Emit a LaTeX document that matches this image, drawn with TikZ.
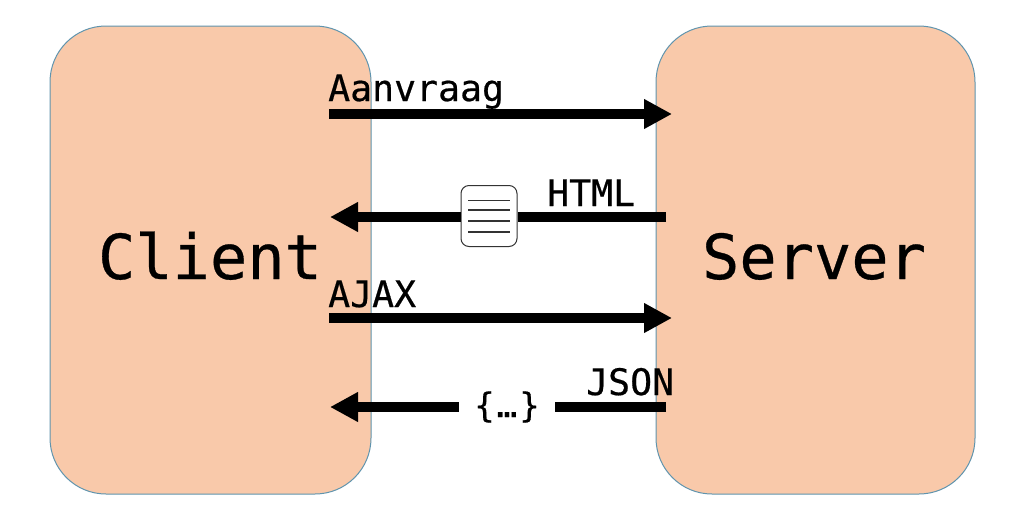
\documentclass[tikz,border=0pt]{standalone}
\usepackage{fontspec}
\setmonofont[FakeBold=0.5]{DejaVu Sans Mono}
\usetikzlibrary{arrows.meta}
\definecolor{boxfill}{HTML}{F9C9AA}
\definecolor{boxline}{HTML}{5F94AE}
\begin{document}
\begin{tikzpicture}[x=1pt,y=-1pt]
 \tikzset{arrow/.style={line width=10pt,-{Triangle[length=28pt,width=28pt]}}}
 \tikzset{plainarrow/.style={line width=10pt}}
 \tikzset{party/.style={draw=boxline,fill=boxfill,line width=1pt,rounded corners=56pt,minimum height=468pt,inner sep=0pt}}
 \tikzset{biglabel/.style={font=\ttfamily\fontsize{62}{62}\selectfont,inner sep=0pt}}
 \tikzset{smalllabel/.style={font=\ttfamily\fontsize{36.5}{36.5}\selectfont,inner sep=0pt,anchor=base west}}
 \useasboundingbox (0,0) rectangle (1020,517);
 \node[party,minimum width=321pt] (client) at (210.5,260) {};
 \node[party,minimum width=319pt] (server) at (815.5,260) {};
 \node[biglabel,anchor=base] (clienttext) at (210,279) {Client};
 \node[biglabel,anchor=base] (servertext) at (814,279) {Server};

 \coordinate (A1) at (329,114);
 \coordinate (B1) at (672,114);
 \coordinate (B2) at (666,217);
 \coordinate (A2) at (330,217);
 \coordinate (A3) at (329,318);
 \coordinate (B3) at (672,318);
 \coordinate (B4) at (666,407);
 \coordinate (A4) at (330,407);

 \node[draw=black!80,fill=white,line width=1pt,rounded corners=8pt,minimum width=56pt,minimum height=61pt,inner sep=0pt] (doc) at (489,216) {};
 \foreach \y in {-15.5,-6,5,16}
  \draw[black!80,line width=1.2pt] ([xshift=-21pt,yshift=-\y pt]doc.center) -- ([xshift=21pt,yshift=-\y pt]doc.center);
 \node[font=\ttfamily\fontsize{34}{34}\selectfont,minimum width=96pt,inner sep=0pt] (dots) at (507,407) {\{\kern2pt…\kern2pt\}};

 \draw[arrow] (A1) to (B1);
 \draw[plainarrow] (B2) to (doc.east |- B2);
 \draw[arrow] (doc.west |- A2) to (A2);
 \draw[arrow] (A3) to (B3);
 \draw[plainarrow] (B4) to (dots);
 \draw[arrow] (dots) to (A4);

 \node[smalllabel] (aanvraag) at (328,101) {Aanvraag};
 \node[smalllabel] (html) at (547,206) {HTML};
 \node[smalllabel] (ajax) at (328,307) {AJAX};
 \node[smalllabel] (json) at (586,395) {JSON};
\end{tikzpicture}
\end{document}
